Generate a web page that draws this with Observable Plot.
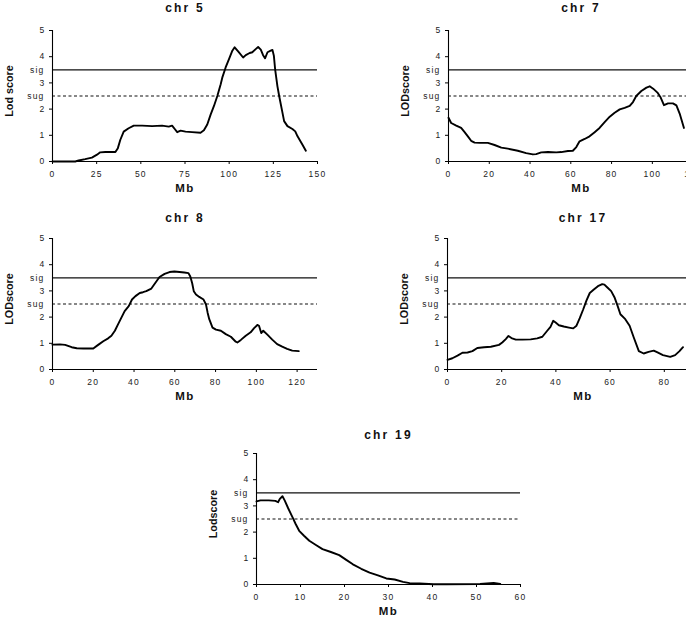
<!DOCTYPE html>
<html>
<head>
<meta charset="utf-8">
<script src="https://cdn.jsdelivr.net/npm/d3@7"></script>
<script src="https://cdn.jsdelivr.net/npm/@observablehq/plot@0.6"></script>
<style>
  html, body { margin: 0; padding: 0; background: #fff; }
  body { width: 686px; height: 617px; overflow: hidden; position: relative; }
  .panel { position: absolute; }
  .panel svg { max-width: none !important; display: block; }
</style>
</head>
<body>
<script>
// ---- data ----
const thresholdNames = ["sig", "sug"];
const thresholdValues = [3.5, 2.5];
const lodTicks = [0, 1, 2, 3, 4, 5];

const chr5Mb  = [0, 12.9, 14.8, 18.5, 22.3, 25.2, 27, 29.9, 35.6, 37, 38.4, 40.3, 43.1, 46, 50.7, 56.4, 62, 65.8, 67.7, 69.2, 70.6, 72.5, 75.3, 79, 83.8, 85.7, 87.6, 89.5, 91.4, 93.3, 95.2, 96.1, 98, 99.9, 101.8, 103.1, 105.2, 107.9, 109.4, 111.6, 113.1, 115, 116.4, 117.9, 119.2, 120.3, 121.7, 123.5, 124.5, 125.3, 126, 127.3, 128.3, 129.8, 131.1, 133, 135.8, 137.4, 138.7, 141.5, 143.4];
const chr5Lod = [0, 0, 0.04, 0.09, 0.15, 0.26, 0.35, 0.36, 0.36, 0.51, 0.83, 1.14, 1.27, 1.37, 1.37, 1.35, 1.37, 1.33, 1.37, 1.24, 1.12, 1.18, 1.14, 1.12, 1.10, 1.19, 1.41, 1.79, 2.12, 2.5, 2.95, 3.2, 3.59, 3.91, 4.23, 4.36, 4.19, 3.97, 4.06, 4.14, 4.17, 4.29, 4.37, 4.27, 4.06, 3.94, 4.17, 4.23, 4.26, 4.04, 3.53, 2.88, 2.5, 1.99, 1.54, 1.35, 1.24, 1.15, 0.96, 0.64, 0.41];

const chr7Mb  = [0, 1.3, 3.8, 6.2, 7.9, 9.5, 11.1, 12.8, 15.2, 19.3, 22.6, 25.9, 29.1, 34, 38.1, 41.4, 43, 45.5, 48.8, 52.9, 55.3, 58.6, 61, 62.7, 64.3, 66.8, 69.2, 71.7, 74.1, 76.6, 79.1, 81.5, 84, 86.4, 88.9, 90.5, 92.1, 94.6, 97.1, 98.7, 100.4, 102.5, 104.1, 105.7, 107.7, 110.1, 111.8, 113.4, 115.5];
const chr7Lod = [1.67, 1.47, 1.37, 1.28, 1.12, 0.96, 0.79, 0.72, 0.71, 0.71, 0.63, 0.53, 0.49, 0.41, 0.32, 0.27, 0.28, 0.35, 0.36, 0.35, 0.36, 0.40, 0.41, 0.55, 0.77, 0.86, 0.96, 1.12, 1.28, 1.5, 1.71, 1.86, 1.99, 2.05, 2.12, 2.27, 2.5, 2.69, 2.82, 2.87, 2.78, 2.63, 2.44, 2.15, 2.22, 2.22, 2.14, 1.83, 1.28];

const chr8Mb  = [0, 3.7, 6.2, 9.4, 11.9, 15.1, 20, 22.4, 24.9, 27.3, 28.9, 30.6, 32.2, 33.8, 35.4, 37.4, 39, 40.7, 42.8, 44.4, 46, 48.5, 50.4, 52.5, 55, 57.4, 59.8, 62.3, 64.7, 66.7, 67.6, 68.5, 69.3, 70.4, 72, 74.1, 75.3, 76.1, 76.9, 78.5, 80.2, 82.6, 85, 87.5, 89.9, 90.7, 92.4, 94.8, 97.2, 98.9, 100.5, 101.3, 102.4, 103.4, 105.4, 107.8, 110.2, 112.7, 115.1, 117.6, 120.8];
const chr8Lod = [0.95, 0.96, 0.94, 0.85, 0.81, 0.8, 0.8, 0.94, 1.08, 1.19, 1.29, 1.48, 1.73, 1.98, 2.23, 2.42, 2.67, 2.8, 2.92, 2.95, 2.99, 3.09, 3.3, 3.53, 3.65, 3.72, 3.74, 3.72, 3.7, 3.68, 3.55, 3.3, 2.99, 2.86, 2.77, 2.67, 2.48, 2.17, 1.92, 1.6, 1.52, 1.48, 1.35, 1.25, 1.06, 1.03, 1.13, 1.29, 1.42, 1.58, 1.7, 1.67, 1.39, 1.48, 1.33, 1.14, 0.97, 0.87, 0.79, 0.72, 0.7];

const chr17Mb  = [0, 1.8, 3.7, 5.5, 7.4, 9.2, 11, 13.5, 16, 19, 20.2, 21.5, 22.5, 23.6, 25.2, 27.6, 30.7, 33.1, 35, 36.8, 38, 39, 39.9, 41.1, 42.9, 44.8, 46.4, 47.6, 48.8, 50.1, 51.3, 52.5, 54, 55.5, 57.1, 57.9, 58.9, 60.4, 61.6, 62.8, 63.8, 65.6, 67.2, 68.7, 70.6, 72.4, 74.2, 76.1, 77.5, 79.5, 82.2, 84, 85.6, 86.9];
const chr17Lod = [0.37, 0.43, 0.53, 0.64, 0.65, 0.70, 0.82, 0.85, 0.87, 0.94, 1.03, 1.16, 1.28, 1.2, 1.14, 1.14, 1.15, 1.19, 1.25, 1.48, 1.63, 1.86, 1.79, 1.69, 1.64, 1.6, 1.57, 1.67, 1.96, 2.3, 2.64, 2.92, 3.05, 3.18, 3.26, 3.24, 3.14, 2.99, 2.76, 2.42, 2.11, 1.92, 1.67, 1.23, 0.7, 0.61, 0.67, 0.72, 0.65, 0.55, 0.48, 0.55, 0.7, 0.85];

const chr19Mb  = [0, 0.9, 2.8, 4.3, 4.9, 5.3, 5.9, 6.4, 7.2, 8.2, 8.9, 9.7, 10.8, 12, 13.5, 15, 16.9, 18.8, 20.4, 21.9, 23.8, 25.7, 27.6, 29.5, 31.4, 33.3, 34.8, 37.1, 40.2, 43.2, 50.8, 53.9, 55.4];
const chr19Lod = [3.17, 3.21, 3.21, 3.19, 3.14, 3.27, 3.37, 3.21, 2.91, 2.56, 2.31, 2.05, 1.86, 1.67, 1.51, 1.35, 1.24, 1.12, 0.94, 0.77, 0.6, 0.45, 0.35, 0.23, 0.19, 0.1, 0.05, 0.04, 0.01, 0.01, 0.02, 0.06, 0.02];

const panels = [
  {title: "chr 5",  ylabel: "Lod score", mb: chr5Mb,  lod: chr5Lod,  xDomain: [0, 150], xTicks: [0, 25, 50, 75, 100, 125, 150], w: 265, left: 0,     top: 0,     titleDy: -22},
  {title: "chr 7",  ylabel: "LODscore",  mb: chr7Mb,  lod: chr7Lod,  xDomain: [0, 130], xTicks: [0, 20, 40, 60, 80, 100, 120], w: 265, left: 395.5, top: 0,     titleDy: -22},
  {title: "chr 8",  ylabel: "LODscore",  mb: chr8Mb,  lod: chr8Lod,  xDomain: [0, 130], xTicks: [0, 20, 40, 60, 80, 100, 120], w: 265, left: 0,     top: 207.7, titleDy: -20.5},
  {title: "chr 17", ylabel: "LODscore",  mb: chr17Mb, lod: chr17Lod, xDomain: [0, 100], xTicks: [0, 20, 40, 60, 80],           w: 271, left: 395,   top: 207.7, titleDy: -20.5},
  {title: "chr 19", ylabel: "Lodscore",  mb: chr19Mb, lod: chr19Lod, xDomain: [0, 60],  xTicks: [0, 10, 20, 30, 40, 50, 60],   w: 264, left: 203.7, top: 422.7, titleDy: -18}
];

const FONT = "'Liberation Sans', Arial, Helvetica, sans-serif";
const thresholds = thresholdNames.map((n, i) => ({name: n, v: thresholdValues[i]}));

for (const p of panels) {
  const rows = p.mb.map((m, i) => ({mb: m, lod: p.lod[i]}));
  const W = p.w + 52 + 20;
  const chart = Plot.plot({
    width: W,
    height: 201,
    marginLeft: 52,
    marginRight: 20,
    marginTop: 30,
    marginBottom: 40,
    x: {domain: p.xDomain},
    y: {domain: [0, 5]},
    style: {fontFamily: FONT, fontSize: "8.5px", color: "#222", background: "transparent", overflow: "visible", maxWidth: "none", letterSpacing: "1.2px"},
    marks: [
      Plot.ruleY([thresholdValues[0]], {stroke: "#111", strokeWidth: 1.2}),
      Plot.ruleY([thresholdValues[1]], {stroke: "#111", strokeWidth: 1.2, strokeDasharray: "3,2.5"}),
      Plot.line(rows, {x: "mb", y: "lod", stroke: "#000", strokeWidth: 1.9}),
      Plot.ruleX([0], {stroke: "#000", strokeWidth: 1.1}),
      Plot.ruleY([0], {stroke: "#000", strokeWidth: 1.1}),
      Plot.axisX({ticks: p.xTicks, tickFormat: d => String(d), tickSize: 3, tickPadding: 6, label: null, stroke: "#000"}),
      Plot.axisY({ticks: lodTicks, tickFormat: d => String(d), tickSize: 3, tickPadding: 4, label: null, stroke: "#000"}),
      Plot.text(thresholds, {y: "v", text: "name", frameAnchor: "left", dx: -8, textAnchor: "end", fill: "#222"}),
      Plot.text([p.title], {text: d => d, frameAnchor: "top", dy: p.titleDy, lineAnchor: "middle", fontSize: 12, fontWeight: "bold", fill: "#111"}),
      Plot.text(["Mb"], {text: d => d, frameAnchor: "bottom", dy: 26.5, lineAnchor: "middle", fontSize: 11.5, fontWeight: "bold", fill: "#111"}),
      Plot.text([p.ylabel], {text: d => d, frameAnchor: "left", dx: -43, dy: -5, rotate: -90, textAnchor: "middle", lineAnchor: "middle", fontSize: 10.8, fontWeight: "bold", fill: "#111"})
    ]
  });
  // per-label letter spacing
  d3.select(chart).selectAll("text").each(function () {
    const t = this.textContent;
    if (t === p.title) this.style.letterSpacing = "2.2px";
    else if (t === "Mb") this.style.letterSpacing = "1.5px";
    else if (t === p.ylabel) this.style.letterSpacing = "0px";
  });
  const div = document.createElement("div");
  div.className = "panel";
  div.style.left = p.left + "px";
  div.style.top = p.top + "px";
  div.style.width = W + "px";
  div.appendChild(chart);
  document.body.appendChild(div);
}
</script>
</body>
</html>
